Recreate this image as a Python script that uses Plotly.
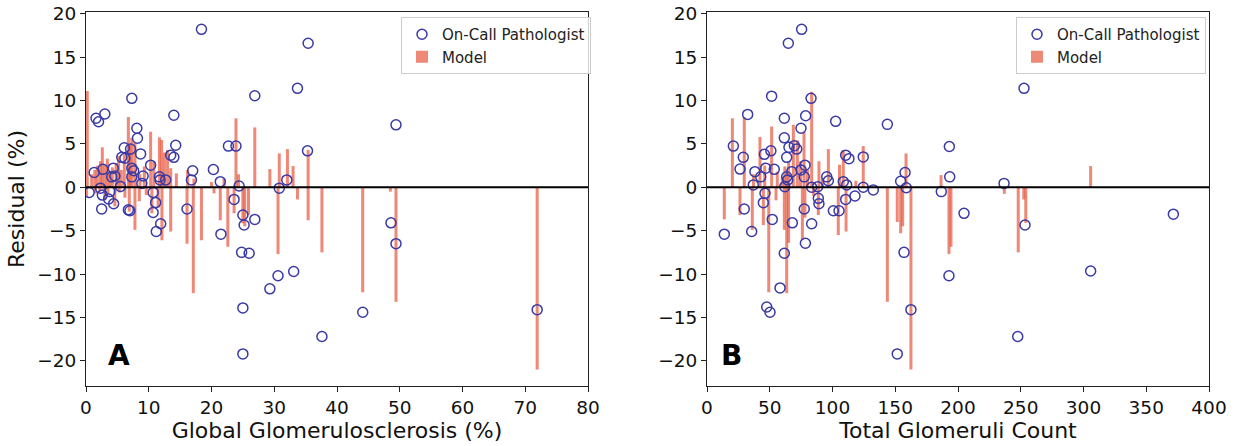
import plotly.graph_objects as go

# ---------------- Panel A data ----------------
a_path_x = [18.4, 35.4, 33.7, 26.9, 7.3, 1.6, 2.0, 3.0, 14.0, 8.1, 8.2, 14.3, 6.1, 7.1, 8.7, 5.7, 6.2,
            13.5, 14.0, 10.3, 1.3, 2.7, 4.35, 7.3, 7.6, 9.1, 4.6, 4.1, 7.3, 11.7, 12.7, 11.8, 17.0,
            16.8, 8.9, 5.5, 20.3, 0.5, 2.3, 2.6, 3.8, 3.6, 4.4, 2.5, 10.7, 11.1, 6.75, 7.0, 16.1,
            10.7, 11.9, 11.2, 22.7, 23.9, 35.3, 21.4, 24.4, 32.0, 30.8, 23.6, 25.0, 26.9, 25.2,
            21.5, 24.8, 26.0, 30.6, 33.1, 29.3, 25.0, 37.6, 25.0, 44.1, 49.4, 49.4, 48.6, 71.9]
a_path_y = [18.2, 16.6, 11.4, 10.55, 10.25, 7.95, 7.55, 8.45, 8.3, 6.8, 5.65, 4.85, 4.55, 4.4, 3.85,
            3.45, 3.35, 3.7, 3.45, 2.55, 1.7, 2.07, 2.2, 2.2, 1.9, 1.3, 1.3, 1.2, 1.2, 1.2, 0.85,
            0.85, 1.9, 0.85, 0.45, 0.1, 2.05, -0.6, -0.1, -0.9, -0.5, -1.35, -1.9, -2.5, -0.6,
            -1.75, -2.6, -2.7, -2.5, -2.9, -4.2, -5.1, 4.75, 4.75, 4.2, 0.65, 0.15, 0.85, -0.1,
            -1.4, -3.2, -3.7, -4.35, -5.4, -7.5, -7.6, -10.2, -9.7, -11.7, -13.9, -17.2, -19.2,
            -14.4, -6.5, 7.2, -4.1, -14.1]
a_model_x = [0.2, 0.9, 1.4, 1.8, 2.3, 2.6, 3.0, 3.4, 3.8, 4.2, 4.8, 5.2, 5.6, 6.1, 6.75, 7.0, 7.3,
             7.8, 8.6, 9.3, 10.3, 10.8, 11.7, 12.05, 12.5, 13.0, 13.5, 14.4, 16.2, 17.2, 20.0, 22.0,
             23.9, 24.3, 26.9, 29.3, 30.8, 32.1, 33.0, 35.4,
             0.1, 1.5, 2.2, 3.0, 3.5, 4.6, 5.3, 6.2, 6.9, 7.8, 8.5, 9.6, 10.5, 11.5, 12.1, 13.5,
             16.1, 17.1, 18.4, 20.4, 21.4, 22.6, 23.6, 25.0, 25.3, 25.9, 30.6, 33.7, 35.4, 37.6,
             44.1, 48.5, 49.4, 71.9]
a_model_y = [11.1, 1.5, 2.0, 2.5, 3.0, 4.6, 2.6, 3.3, 1.8, 2.3, 2.8, 3.6, 2.0, 3.8, 8.1, 5.0, 5.7,
             5.1, 1.5, 2.4, 6.4, 3.0, 5.75, 5.45, 4.0, 4.3, 2.2, 1.6, 2.0, 1.0, 0.6, 1.0,
             7.95, 1.5, 6.9, 2.1, 3.9, 4.4, 2.45, 4.3,
             -1.1, -0.7, -0.5, -1.5, -0.8, -2.2, -0.6, -1.2, -2.8, -4.9, -1.6, -0.9, -3.0, -2.4,
             -6.1, -5.1, -6.5, -12.2, -6.1, -0.7, -3.8, -6.85, -3.0, -4.15, -4.5, -3.2, -7.7,
             -1.4, -3.8, -7.5, -12.1, -0.5, -13.2, -21.0]

# ---------------- Panel B data ----------------
b_path_x = [75.4, 64.8, 51.5, 82.9, 32.4, 61.6, 78.6, 74.9, 102.5, 61.6, 21.0, 65.3, 69.6, 71.5, 50.9,
            45.7, 28.9, 63.5, 110.5, 113.1, 26.3, 46.8, 53.6, 38.2, 42.8, 67.5, 74.9, 78.1, 63.5,
            64.3, 77.5, 95.4, 96.7, 108.6, 111.3, 36.9, 83.4, 88.2, 62.0, 46.2, 44.9, 29.7, 52.0,
            68.0, 83.4, 77.5, 88.7, 89.2, 100.7, 105.2, 110.5, 117.9, 13.8, 35.6, 78.4, 61.6, 58.2,
            47.6, 50.2, 143.7, 193.1, 124.5, 157.8, 154.3, 158.8, 193.4, 186.7, 124.5, 132.5, 157.0,
            236.7, 204.8, 253.4, 192.8, 162.5, 151.6, 247.6, 252.6, 371.6, 305.7]
b_path_y = [18.2, 16.6, 10.5, 10.25, 8.4, 7.95, 8.25, 6.8, 7.6, 5.7, 4.75, 4.6, 4.8, 4.4, 4.2, 3.8,
            3.45, 3.45, 3.7, 3.3, 2.1, 2.2, 2.07, 1.8, 1.2, 1.8, 2.0, 2.55, 1.2, 0.85, 1.2, 1.2, 0.75,
            0.65, 0.27, 0.27, 0.0, 0.07, 0.07, -0.7, -1.77, -2.5, -3.7, -4.1, -4.2, -2.5, -1.27,
            -1.9, -2.7, -2.7, -1.4, -1.0, -5.4, -5.1, -6.45, -7.6, -11.6, -13.8, -14.4, 7.25, 4.7,
            3.5, 1.7, 0.7, -0.05, 1.2, -0.5, 0.0, -0.3, -7.5, 0.45, -3.0, -4.35, -10.2, -14.1,
            -19.2, -17.2, 11.4, -3.1, -9.65]
b_model_x = [20.2, 29.7, 37.0, 42.2, 46.0, 51.5, 56.0, 60.0, 62.0, 63.5, 65.0, 68.8, 72.0, 74.5, 77.3,
             80.0, 83.4, 89.2, 92.0, 96.7, 105.6, 108.6, 118.6, 124.5, 158.6, 186.5, 305.7,
             13.8, 26.3, 36.1, 44.9, 49.2, 55.0, 61.6, 63.5, 65.0, 76.0, 78.0, 85.0, 88.7, 104.6,
             110.8, 143.7, 151.6, 154.3, 155.9, 162.5, 192.8, 194.4, 236.9, 248.0, 252.4, 254.0]
b_model_y = [7.95, 8.1, 1.5, 5.8, 2.5, 7.0, 1.8, 1.2, 2.4, 1.6, 3.0, 7.2, 5.4, 3.0, 6.4,
             2.0, 11.0, 3.0, 1.0, 4.4, 2.6, 4.3, 0.75, 4.75, 3.9, 1.4, 2.45,
             -3.7, -3.2, -4.9, -4.35, -12.1, -1.5, -4.9, -12.2, -6.4, -6.1, -3.5, -1.0, -3.2, -5.5,
             -5.1, -13.2, -4.0, -5.3, -4.5, -21.0, -7.7, -6.85, -0.75, -7.5, -1.4, -4.1]

y_ticks = [-20, -15, -10, -5, 0, 5, 10, 15, 20]

CIRCLE = "#3a3aa6"
BAR = "rgba(232,90,66,0.72)"
FONT = "DejaVu Sans"

W, H = 1239, 446


def fx(px):
    return px / W


def fy(py):
    return 1 - py / H


fig = go.Figure()

panels = [
    ("x", "y", a_path_x, a_path_y, a_model_x, a_model_y, 0.48, "legend"),
    ("x2", "y2", b_path_x, b_path_y, b_model_x, b_model_y, 2.4, "legend2"),
]
for xa, ya, px, py, mx, my, w, lg in panels:
    fig.add_trace(go.Bar(x=mx, y=my, base=0, width=[w] * len(mx), marker=dict(color=BAR, line=dict(width=0)),
                         name="Model", xaxis=xa, yaxis=ya, legend=lg))
    fig.add_trace(go.Scatter(x=px, y=py, mode="markers", name="On-Call Pathologist",
                             marker=dict(symbol="circle-open", size=10, color=CIRCLE, line=dict(width=1.5)),
                             xaxis=xa, yaxis=ya, legend=lg))

axis_common = dict(showline=True, linecolor="#222", linewidth=1.2, mirror=True, ticks="outside",
                   ticklen=5, tickwidth=1.2, tickcolor="#222", showgrid=False, zeroline=False,
                   tickfont=dict(family=FONT, size=18.5, color="#111"), automargin=False)

ydom = [fy(386), fy(12)]
legend_common = dict(xanchor="right", y=fy(17), yanchor="top", traceorder="reversed",
                     font=dict(family=FONT, size=15, color="#222"), bordercolor="#cccccc", borderwidth=1,
                     bgcolor="rgba(255,255,255,0.8)", itemwidth=30, tracegroupgap=0)

fig.update_layout(
    width=W, height=H, margin=dict(l=0, r=0, t=0, b=0),
    paper_bgcolor="white", plot_bgcolor="white", barmode="overlay",
    font=dict(family=FONT, color="#111"),
    xaxis=dict(domain=[fx(86), fx(588)], range=[0, 80], tickvals=[0, 10, 20, 30, 40, 50, 60, 70, 80],
               title=dict(text="Global Glomerulosclerosis (%)", font=dict(family=FONT, size=22), standoff=4),
               anchor="y", **axis_common),
    yaxis=dict(domain=ydom, range=[-22.9, 20.2], tickvals=y_ticks,
               title=dict(text="Residual (%)", font=dict(family=FONT, size=22), standoff=6),
               anchor="x", **axis_common),
    xaxis2=dict(domain=[fx(707), fx(1209)], range=[0, 400],
                tickvals=[0, 50, 100, 150, 200, 250, 300, 350, 400],
                title=dict(text="Total Glomeruli Count", font=dict(family=FONT, size=22), standoff=4),
                anchor="y2", **axis_common),
    yaxis2=dict(domain=ydom, range=[-22.9, 20.2], tickvals=y_ticks,
                anchor="x2", **axis_common),
    legend=dict(x=fx(591), **legend_common),
    legend2=dict(x=fx(1206), **legend_common),
    shapes=[
        dict(type="line", xref="x domain", yref="y", x0=0, x1=1, y0=0, y1=0, line=dict(color="black", width=2)),
        dict(type="line", xref="x2 domain", yref="y2", x0=0, x1=1, y0=0, y1=0, line=dict(color="black", width=2)),
    ],
    annotations=[
        dict(text="<b>A</b>", xref="paper", yref="paper", x=fx(119), y=fy(355), xanchor="center",
             yanchor="middle", showarrow=False, font=dict(family=FONT, size=28, color="black")),
        dict(text="<b>B</b>", xref="paper", yref="paper", x=fx(731), y=fy(355), xanchor="center",
             yanchor="middle", showarrow=False, font=dict(family=FONT, size=28, color="black")),
    ],
)

# remove the default 8px page margin so the figure sits at the window origin
fig.write_html("out.html", config={"displayModeBar": False},
               post_script="document.body.style.margin='0px';")
